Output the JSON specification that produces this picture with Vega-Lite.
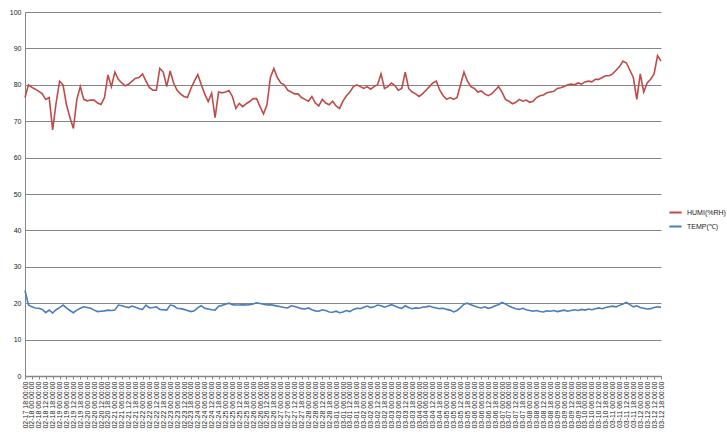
{
"$schema": "https://vega.github.io/schema/vega-lite/v6.json",
"width": 636, "height": 364,
"autosize": "none",
"padding": {"left": 25, "top": 12, "right": 66, "bottom": 61},
"background": "white",
"config": {"view": {"stroke": null}, "font": "Liberation Sans"},
"data": {"values": [
{"t":"2017-02-17T18:00:00","h":76.5,"c":23.5},
{"t":"2017-02-17T21:00:00","h":80,"c":19.5},
{"t":"2017-02-18T00:00:00","h":79.3,"c":19.0},
{"t":"2017-02-18T03:00:00","h":78.8,"c":18.7},
{"t":"2017-02-18T06:00:00","h":78.2,"c":18.6},
{"t":"2017-02-18T09:00:00","h":77.5,"c":18.3},
{"t":"2017-02-18T12:00:00","h":76,"c":17.4},
{"t":"2017-02-18T15:00:00","h":76.5,"c":18.1},
{"t":"2017-02-18T18:00:00","h":67.6,"c":17.3},
{"t":"2017-02-18T21:00:00","h":75,"c":18.2},
{"t":"2017-02-19T00:00:00","h":81,"c":18.8},
{"t":"2017-02-19T03:00:00","h":80,"c":19.5},
{"t":"2017-02-19T06:00:00","h":74.5,"c":18.7},
{"t":"2017-02-19T09:00:00","h":71,"c":18.0},
{"t":"2017-02-19T12:00:00","h":68,"c":17.4},
{"t":"2017-02-19T15:00:00","h":76,"c":18.1},
{"t":"2017-02-19T18:00:00","h":79.5,"c":18.6},
{"t":"2017-02-19T21:00:00","h":76,"c":19.0},
{"t":"2017-02-20T00:00:00","h":75.6,"c":18.8},
{"t":"2017-02-20T03:00:00","h":75.8,"c":18.6},
{"t":"2017-02-20T06:00:00","h":75.8,"c":18.1},
{"t":"2017-02-20T09:00:00","h":75,"c":17.7},
{"t":"2017-02-20T12:00:00","h":74.6,"c":17.8},
{"t":"2017-02-20T15:00:00","h":76.5,"c":17.9},
{"t":"2017-02-20T18:00:00","h":82.7,"c":18.1},
{"t":"2017-02-20T21:00:00","h":79.5,"c":18.0},
{"t":"2017-02-21T00:00:00","h":83.5,"c":18.1},
{"t":"2017-02-21T03:00:00","h":81.5,"c":19.5},
{"t":"2017-02-21T06:00:00","h":80.5,"c":19.3},
{"t":"2017-02-21T09:00:00","h":79.7,"c":19.0},
{"t":"2017-02-21T12:00:00","h":80.2,"c":18.8},
{"t":"2017-02-21T15:00:00","h":81,"c":19.2},
{"t":"2017-02-21T18:00:00","h":81.8,"c":18.9},
{"t":"2017-02-21T21:00:00","h":82,"c":18.5},
{"t":"2017-02-22T00:00:00","h":83,"c":18.3},
{"t":"2017-02-22T03:00:00","h":81,"c":19.5},
{"t":"2017-02-22T06:00:00","h":79.2,"c":18.7},
{"t":"2017-02-22T09:00:00","h":78.5,"c":18.8},
{"t":"2017-02-22T12:00:00","h":78.5,"c":19.0},
{"t":"2017-02-22T15:00:00","h":84.5,"c":18.3},
{"t":"2017-02-22T18:00:00","h":83.5,"c":18.2},
{"t":"2017-02-22T21:00:00","h":79.5,"c":18.1},
{"t":"2017-02-23T00:00:00","h":83.8,"c":19.5},
{"t":"2017-02-23T03:00:00","h":80.5,"c":19.3},
{"t":"2017-02-23T06:00:00","h":78.5,"c":18.6},
{"t":"2017-02-23T09:00:00","h":77.5,"c":18.5},
{"t":"2017-02-23T12:00:00","h":76.8,"c":18.3},
{"t":"2017-02-23T15:00:00","h":76.5,"c":18.0},
{"t":"2017-02-23T18:00:00","h":79,"c":17.7},
{"t":"2017-02-23T21:00:00","h":81,"c":17.9},
{"t":"2017-02-24T00:00:00","h":82.8,"c":18.8},
{"t":"2017-02-24T03:00:00","h":80,"c":19.3},
{"t":"2017-02-24T06:00:00","h":77.5,"c":18.6},
{"t":"2017-02-24T09:00:00","h":75.4,"c":18.4},
{"t":"2017-02-24T12:00:00","h":77.7,"c":18.2},
{"t":"2017-02-24T15:00:00","h":71,"c":18.1},
{"t":"2017-02-24T18:00:00","h":78,"c":19.2},
{"t":"2017-02-24T21:00:00","h":77.8,"c":19.4},
{"t":"2017-02-25T00:00:00","h":78,"c":19.7},
{"t":"2017-02-25T03:00:00","h":78.4,"c":20.0},
{"t":"2017-02-25T06:00:00","h":76.8,"c":19.6},
{"t":"2017-02-25T09:00:00","h":73.5,"c":19.5},
{"t":"2017-02-25T12:00:00","h":74.9,"c":19.5},
{"t":"2017-02-25T15:00:00","h":74,"c":19.6},
{"t":"2017-02-25T18:00:00","h":74.8,"c":19.5},
{"t":"2017-02-25T21:00:00","h":75.4,"c":19.6},
{"t":"2017-02-26T00:00:00","h":76.2,"c":19.8},
{"t":"2017-02-26T03:00:00","h":76.2,"c":20.1},
{"t":"2017-02-26T06:00:00","h":74,"c":19.9},
{"t":"2017-02-26T09:00:00","h":72,"c":19.7},
{"t":"2017-02-26T12:00:00","h":74.5,"c":19.5},
{"t":"2017-02-26T15:00:00","h":82,"c":19.6},
{"t":"2017-02-26T18:00:00","h":84.5,"c":19.4},
{"t":"2017-02-26T21:00:00","h":82,"c":19.2},
{"t":"2017-02-27T00:00:00","h":80.5,"c":19.0},
{"t":"2017-02-27T03:00:00","h":80,"c":18.8},
{"t":"2017-02-27T06:00:00","h":78.5,"c":18.7},
{"t":"2017-02-27T09:00:00","h":78,"c":19.3},
{"t":"2017-02-27T12:00:00","h":77.5,"c":19.1},
{"t":"2017-02-27T15:00:00","h":77.5,"c":18.8},
{"t":"2017-02-27T18:00:00","h":76.5,"c":18.5},
{"t":"2017-02-27T21:00:00","h":76,"c":18.4},
{"t":"2017-02-28T00:00:00","h":75.5,"c":18.7},
{"t":"2017-02-28T03:00:00","h":76.8,"c":18.2},
{"t":"2017-02-28T06:00:00","h":75,"c":17.9},
{"t":"2017-02-28T09:00:00","h":74.2,"c":17.8},
{"t":"2017-02-28T12:00:00","h":76,"c":18.2},
{"t":"2017-02-28T15:00:00","h":75,"c":18.0},
{"t":"2017-02-28T18:00:00","h":74.5,"c":17.6},
{"t":"2017-02-28T21:00:00","h":75.5,"c":17.5},
{"t":"2017-03-01T00:00:00","h":74.2,"c":17.8},
{"t":"2017-03-01T03:00:00","h":73.5,"c":17.4},
{"t":"2017-03-01T06:00:00","h":75.5,"c":17.6},
{"t":"2017-03-01T09:00:00","h":77,"c":18.0},
{"t":"2017-03-01T12:00:00","h":78,"c":17.7},
{"t":"2017-03-01T15:00:00","h":79.5,"c":18.3},
{"t":"2017-03-01T18:00:00","h":80,"c":18.6},
{"t":"2017-03-01T21:00:00","h":79.5,"c":18.5},
{"t":"2017-03-02T00:00:00","h":79,"c":18.9},
{"t":"2017-03-02T03:00:00","h":79.5,"c":19.2},
{"t":"2017-03-02T06:00:00","h":78.8,"c":18.8},
{"t":"2017-03-02T09:00:00","h":79.5,"c":19.0},
{"t":"2017-03-02T12:00:00","h":80,"c":19.5},
{"t":"2017-03-02T15:00:00","h":83,"c":19.3},
{"t":"2017-03-02T18:00:00","h":79,"c":18.9},
{"t":"2017-03-02T21:00:00","h":79.5,"c":19.2},
{"t":"2017-03-03T00:00:00","h":80.5,"c":19.6},
{"t":"2017-03-03T03:00:00","h":79.8,"c":19.2},
{"t":"2017-03-03T06:00:00","h":78.5,"c":18.8},
{"t":"2017-03-03T09:00:00","h":79,"c":18.6},
{"t":"2017-03-03T12:00:00","h":83.5,"c":19.3},
{"t":"2017-03-03T15:00:00","h":79,"c":18.8},
{"t":"2017-03-03T18:00:00","h":78,"c":18.5},
{"t":"2017-03-03T21:00:00","h":77.5,"c":18.7},
{"t":"2017-03-04T00:00:00","h":76.8,"c":18.6},
{"t":"2017-03-04T03:00:00","h":77.5,"c":18.9},
{"t":"2017-03-04T06:00:00","h":78.5,"c":19.0},
{"t":"2017-03-04T09:00:00","h":79.5,"c":19.2},
{"t":"2017-03-04T12:00:00","h":80.5,"c":18.9},
{"t":"2017-03-04T15:00:00","h":81,"c":18.7},
{"t":"2017-03-04T18:00:00","h":78.5,"c":18.5},
{"t":"2017-03-04T21:00:00","h":77,"c":18.6},
{"t":"2017-03-05T00:00:00","h":76,"c":18.3},
{"t":"2017-03-05T03:00:00","h":76.5,"c":18.1},
{"t":"2017-03-05T06:00:00","h":76,"c":17.6},
{"t":"2017-03-05T09:00:00","h":76.5,"c":18.0},
{"t":"2017-03-05T12:00:00","h":80,"c":18.8},
{"t":"2017-03-05T15:00:00","h":83.5,"c":19.7},
{"t":"2017-03-05T18:00:00","h":81,"c":20.0},
{"t":"2017-03-05T21:00:00","h":79.5,"c":19.6},
{"t":"2017-03-06T00:00:00","h":79,"c":19.2},
{"t":"2017-03-06T03:00:00","h":78,"c":18.9},
{"t":"2017-03-06T06:00:00","h":78.3,"c":18.7},
{"t":"2017-03-06T09:00:00","h":77.5,"c":19.0},
{"t":"2017-03-06T12:00:00","h":77,"c":18.6},
{"t":"2017-03-06T15:00:00","h":77.5,"c":18.8},
{"t":"2017-03-06T18:00:00","h":78.5,"c":19.3},
{"t":"2017-03-06T21:00:00","h":79.5,"c":19.6},
{"t":"2017-03-07T00:00:00","h":78,"c":20.2},
{"t":"2017-03-07T03:00:00","h":76,"c":19.8},
{"t":"2017-03-07T06:00:00","h":75.5,"c":19.2},
{"t":"2017-03-07T09:00:00","h":74.8,"c":18.8},
{"t":"2017-03-07T12:00:00","h":75.2,"c":18.5},
{"t":"2017-03-07T15:00:00","h":76,"c":18.3},
{"t":"2017-03-07T18:00:00","h":75.5,"c":18.6},
{"t":"2017-03-07T21:00:00","h":75.8,"c":18.2},
{"t":"2017-03-08T00:00:00","h":75.2,"c":18.0},
{"t":"2017-03-08T03:00:00","h":75.5,"c":17.8},
{"t":"2017-03-08T06:00:00","h":76.5,"c":18.0},
{"t":"2017-03-08T09:00:00","h":77,"c":17.7},
{"t":"2017-03-08T12:00:00","h":77.2,"c":17.6},
{"t":"2017-03-08T15:00:00","h":77.8,"c":17.9},
{"t":"2017-03-08T18:00:00","h":78,"c":17.8},
{"t":"2017-03-08T21:00:00","h":78.2,"c":18.0},
{"t":"2017-03-09T00:00:00","h":79,"c":17.7},
{"t":"2017-03-09T03:00:00","h":79.2,"c":17.9},
{"t":"2017-03-09T06:00:00","h":79.5,"c":18.1},
{"t":"2017-03-09T09:00:00","h":80,"c":17.8},
{"t":"2017-03-09T12:00:00","h":80.2,"c":18.0},
{"t":"2017-03-09T15:00:00","h":80,"c":18.2},
{"t":"2017-03-09T18:00:00","h":80.5,"c":18.0},
{"t":"2017-03-09T21:00:00","h":80.2,"c":18.3},
{"t":"2017-03-10T00:00:00","h":80.8,"c":18.1},
{"t":"2017-03-10T03:00:00","h":81,"c":18.4},
{"t":"2017-03-10T06:00:00","h":80.8,"c":18.2},
{"t":"2017-03-10T09:00:00","h":81.5,"c":18.5},
{"t":"2017-03-10T12:00:00","h":81.5,"c":18.7},
{"t":"2017-03-10T15:00:00","h":82,"c":18.5},
{"t":"2017-03-10T18:00:00","h":82.5,"c":18.8},
{"t":"2017-03-10T21:00:00","h":82.5,"c":19.0},
{"t":"2017-03-11T00:00:00","h":83,"c":19.2},
{"t":"2017-03-11T03:00:00","h":84,"c":19.0},
{"t":"2017-03-11T06:00:00","h":85,"c":19.4},
{"t":"2017-03-11T09:00:00","h":86.5,"c":19.8},
{"t":"2017-03-11T12:00:00","h":86,"c":20.2},
{"t":"2017-03-11T15:00:00","h":84,"c":19.6},
{"t":"2017-03-11T18:00:00","h":82,"c":19.0},
{"t":"2017-03-11T21:00:00","h":76,"c":19.3},
{"t":"2017-03-12T00:00:00","h":83,"c":18.8},
{"t":"2017-03-12T03:00:00","h":78,"c":18.6},
{"t":"2017-03-12T06:00:00","h":80.5,"c":18.4},
{"t":"2017-03-12T09:00:00","h":81.5,"c":18.5},
{"t":"2017-03-12T12:00:00","h":83,"c":18.8},
{"t":"2017-03-12T15:00:00","h":88,"c":19.0},
{"t":"2017-03-12T18:00:00","h":86.5,"c":18.9}
]},
"encoding": {
  "x": {"field": "t", "type": "temporal", "scale": {"nice": false},
    "axis": {"title": null, "format": "%m-%d %H:%M:%S", "tickCount": 92,
      "labelAngle": -90, "labelFontSize": 7, "labelColor": "#1a1a1a", "labelOverlap": false,
      "labelPadding": 2, "domainColor": "#868686", "domainWidth": 1.5, "tickColor": "#868686", "tickSize": 3, "grid": false}},
  "y": {"type": "quantitative", "scale": {"domain": [0, 100], "nice": false},
    "axis": {"title": null, "values": [0, 10, 20, 30, 40, 50, 60, 70, 80, 90, 100], "labelFontSize": 7,
      "labelColor": "#1a1a1a", "labelPadding": 4, "ticks": false, "domainColor": "#868686",
      "gridColor": "#868686", "gridWidth": 1, "gridOpacity": 1}}
},
"layer": [
  {"mark": {"type": "line", "strokeWidth": 1.6},
   "encoding": {
     "y": {"field": "h", "type": "quantitative", "scale": {"domain": [0, 100], "nice": false},
       "axis": {"title": null, "values": [0, 10, 20, 30, 40, 50, 60, 70, 80, 90, 100], "labelFontSize": 7,
         "labelColor": "#1a1a1a", "labelPadding": 4, "ticks": false, "domainColor": "#868686",
         "gridColor": "#868686", "gridWidth": 1, "gridOpacity": 1}},
     "color": {"datum": "HUMI(%RH)", "type": "nominal",
       "scale": {"domain": ["HUMI(%RH)", "TEMP(℃)"], "range": ["#BE4B48", "#4A7EBB"]},
       "legend": {"title": null, "orient": "none", "legendX": 643, "legendY": 193, "symbolType": "stroke",
         "symbolStrokeWidth": 2, "symbolSize": 150, "labelFontSize": 7, "labelColor": "#1a1a1a", "rowPadding": 2}}
   }},
  {"mark": {"type": "line", "strokeWidth": 1.6},
   "encoding": {
     "y": {"field": "c", "type": "quantitative", "scale": {"domain": [0, 100], "nice": false},
       "axis": {"title": null, "values": [0, 10, 20, 30, 40, 50, 60, 70, 80, 90, 100], "labelFontSize": 7,
         "labelColor": "#1a1a1a", "labelPadding": 4, "ticks": false, "domainColor": "#868686",
         "gridColor": "#868686", "gridWidth": 1, "gridOpacity": 1}},
     "color": {"datum": "TEMP(℃)", "type": "nominal"}
   }}
]
}
